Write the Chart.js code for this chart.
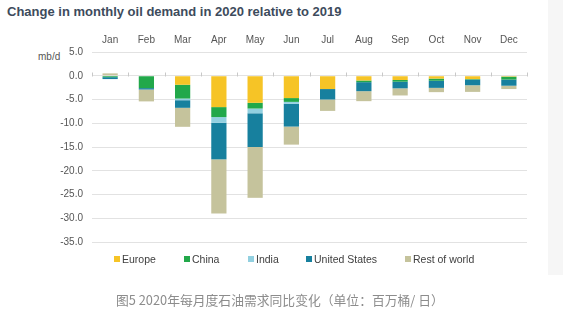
<!DOCTYPE html>
<html>
<head>
<meta charset="utf-8">
<script src="https://cdn.jsdelivr.net/npm/chart.js@4/dist/chart.umd.min.js"></script>
<style>
  html, body { margin: 0; padding: 0; background: #ffffff; }
  body { width: 563px; height: 328px; position: relative; overflow: hidden; font-family: "Liberation Sans", Arial, sans-serif; }
  #strip { position: absolute; left: 548px; top: 0; width: 15px; height: 275px; background: #f6f6f6; }
  #title { position: absolute; left: 7px; top: 4px; font-size: 13px; font-weight: bold; color: #3d4b5c; white-space: nowrap; letter-spacing: 0px; }
  #unit { position: absolute; left: 38px; top: 51px; font-size: 10px; color: #555; }
  #wrap { position: absolute; left: 0; top: 0; width: 548px; height: 257px; }
  #legend { position: absolute; top: 253px; left: 0; width: 548px; height: 16px; font-size: 10.5px; color: #404040; }
  .li { position: absolute; top: 0; white-space: nowrap; }
  .sw { display: inline-block; width: 6px; height: 6px; margin-right: 2px; vertical-align: 1px; }
  #caption { position: absolute; left: 116px; top: 290px; font-size: 12.8px; color: #8c8c8c; font-family: "Noto Sans CJK SC", sans-serif; white-space: nowrap; }
</style>
</head>
<body>
<div id="strip"></div>
<div id="title">Change in monthly oil demand in 2020 relative to 2019</div>
<div id="unit">mb/d</div>
<div id="wrap"><canvas id="c"></canvas></div>
<div id="legend"></div>
<div id="caption">图5 2020年每月度石油需求同比变化（单位：百万桶/ 日）</div>
<script>
const months = ["Jan","Feb","Mar","Apr","May","Jun","Jul","Aug","Sep","Oct","Nov","Dec"];
const seriesNames = ["Europe","China","India","United States","Rest of world"];
const europe = [0, 0, -1.9, -6.6, -5.7, -4.7, -2.8, -1.0, -0.9, -0.6, -0.7, -0.2];
const china  = [-0.3, -2.6, -2.9, -2.1, -1.2, -0.8, 0, -0.35, -0.35, -0.45, -0.1, -0.6];
const india  = [0, 0, -0.35, -1.2, -1.0, -0.4, 0, 0, 0, 0, 0, 0];
const us     = [-0.4, -0.3, -1.6, -7.7, -7.1, -4.8, -2.2, -1.9, -1.4, -1.5, -1.2, -1.3];
const rest   = [0.5, -2.5, -4.0, -11.4, -10.7, -3.8, -2.4, -2.1, -1.5, -0.9, -1.4, -0.7];
const yMin = -35, yMax = 5, yStep = 5;

const colors = ["#f6c426", "#22a84a", "#92d0e0", "#17809e", "#c5c39c"];
const values = [europe, china, india, us, rest];

const datasets = seriesNames.map((n, i) => ({
  label: n,
  data: values[i],
  backgroundColor: colors[i],
  borderWidth: 0,
  stack: "s",
  barPercentage: 0.42,
  categoryPercentage: 1.0
}));

// Legend (HTML) built from series arrays
const legendX = [114, 184, 248, 306, 405];
const lg = document.getElementById("legend");
seriesNames.forEach((n, i) => {
  const d = document.createElement("div");
  d.className = "li";
  d.style.left = legendX[i] + "px";
  d.innerHTML = '<span class="sw" style="background:' + colors[i] + '"></span>' + n;
  lg.appendChild(d);
});

const zeroTicks = {
  id: "zeroTicks",
  afterDatasetsDraw(chart) {
    const ctx = chart.ctx, x = chart.scales.x, y = chart.scales.y;
    const y0 = Math.round(y.getPixelForValue(0)) + 0.5;
    const step = x.getPixelForValue(1) - x.getPixelForValue(0);
    ctx.save();
    ctx.strokeStyle = "#c8c8c8";
    ctx.lineWidth = 1;
    ctx.beginPath();
    for (let i = 0; i <= months.length; i++) {
      const px = x.getPixelForValue(0) - step / 2 + i * step;
      const xx = Math.round(px) + 0.5;
      ctx.moveTo(xx, y0);
      ctx.lineTo(xx, y0 - 4);
    }
    ctx.stroke();
    ctx.restore();
  }
};

new Chart(document.getElementById("c"), {
  type: "bar",
  data: { labels: months, datasets },
  plugins: [zeroTicks],
  options: {
    responsive: true,
    maintainAspectRatio: false,
    animation: false,
    layout: { padding: { left: 0, right: 21, top: 28, bottom: 4 } },
    plugins: { legend: { display: false }, tooltip: { enabled: false }, title: { display: false } },
    scales: {
      x: {
        position: "top",
        stacked: true,
        grid: { display: false, drawTicks: false },
        border: { display: false },
        ticks: { color: "#555", font: { family: "Liberation Sans", size: 10 }, padding: 6, maxRotation: 0 },
        afterFit(s) { s.height = 24; }
      },
      y: {
        stacked: true,
        min: yMin, max: yMax,
        grid: { color: "#e2e2e2", drawTicks: false },
        border: { display: false },
        ticks: {
          stepSize: yStep,
          color: "#555",
          font: { family: "Liberation Sans", size: 10 },
          padding: 9,
          callback: v => v.toFixed(1)
        },
        afterFit(s) { s.width = 92; }
      }
    }
  }
});
</script>
</body>
</html>
